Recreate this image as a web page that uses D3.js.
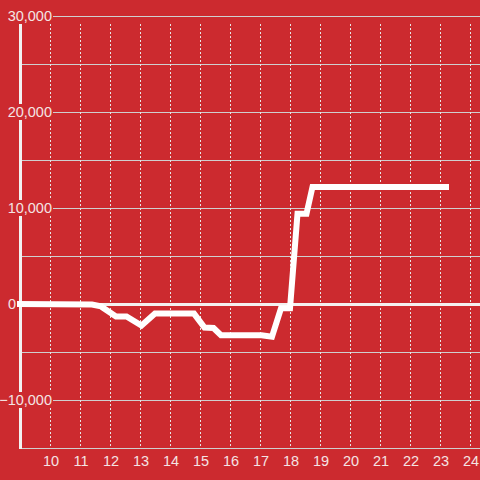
<!DOCTYPE html>
<html>
<head>
<meta charset="utf-8">
<script src="https://d3js.org/d3.v7.min.js"></script>
<style>
	html, body { margin: 0; padding: 0; background: #cc2a2f; }
	svg { display: block; }
	text { font-family: "Liberation Sans", Arial, sans-serif; }
</style>
</head>
<body>
<div id="chart"></div>
<script>
/**
 * Chart data.
 */
var hours = [8.9, 11.4, 11.7, 12.2, 12.55, 13.05, 13.5, 14.8, 15.15, 15.45, 15.7, 17.05, 17.4, 17.7, 18.0, 18.25, 18.55, 18.75, 23.3];
var values = [0, -50, -250, -1300, -1300, -2250, -1000, -1000, -2450, -2500, -3250, -3250, -3400, -450, -450, 9400, 9400, 12200, 12200];
var xTicks = [10, 11, 12, 13, 14, 15, 16, 17, 18, 19, 20, 21, 22, 23, 24];
var yTicks = [-10000, 0, 10000, 20000, 30000];
var yGrid = [-15000, -10000, -5000, 0, 5000, 10000, 15000, 20000, 25000, 30000];

{
	var width = 480,
		height = 480,
		bg = "#cc2a2f",
		labelColor = "#f4e4e4";

	var x = d3.scaleLinear().domain([9, 24]).range([20, 470]);
	var y = d3.scaleLinear().domain([-15000, 30000]).range([448, 16]);

	var points = hours.map(function (h, i) {
		return [h, values[i]];
	});

	var svg = d3.select("#chart").append("svg")
		.attr("width", width)
		.attr("height", height);

	svg.append("rect")
		.attr("width", width)
		.attr("height", height)
		.attr("fill", bg);

	// Horizontal gridlines.
	svg.append("g").selectAll("line")
		.data(yGrid.filter(function (d) { return d !== 0; }))
		.enter().append("line")
		.attr("x1", 20)
		.attr("x2", width)
		.attr("y1", function (d) { return Math.round(y(d)) + 0.5; })
		.attr("y2", function (d) { return Math.round(y(d)) + 0.5; })
		.attr("stroke", "#cfcfcf")
		.attr("stroke-width", 1);

	// Vertical dotted gridlines.
	svg.append("g").selectAll("line")
		.data(xTicks)
		.enter().append("line")
		.attr("x1", function (d) { return Math.round(x(d)) + 0.5; })
		.attr("x2", function (d) { return Math.round(x(d)) + 0.5; })
		.attr("y1", 24)
		.attr("y2", 447)
		.attr("stroke", "#e6e6e6")
		.attr("stroke-width", 1)
		.attr("stroke-dasharray", "2,2");

	// Zero line.
	svg.append("line")
		.attr("x1", 20)
		.attr("x2", width)
		.attr("y1", y(0) + 0.5)
		.attr("y2", y(0) + 0.5)
		.attr("stroke", "#f4f0f0")
		.attr("stroke-width", 3);

	// Y axis line.
	svg.append("line")
		.attr("x1", 20.5)
		.attr("x2", 20.5)
		.attr("y1", 24)
		.attr("y2", 449)
		.attr("stroke", "#f2f2f2")
		.attr("stroke-width", 3);

	// Data line.
	var line = d3.line()
		.x(function (d) { return x(d[0]); })
		.y(function (d) { return y(d[1]); });

	svg.append("path")
		.datum(points)
		.attr("d", line)
		.attr("fill", "none")
		.attr("stroke", "#ffffff")
		.attr("stroke-width", 6);

	// Y labels with a background box.
	var fmt = d3.format(",");
	var yLab = svg.append("g").selectAll("g")
		.data(yTicks)
		.enter().append("g")
		.attr("transform", function (d) { return "translate(0," + y(d) + ")"; });

	yLab.append("rect")
		.attr("x", function (d) { return d === 0 ? 7 : 0; })
		.attr("y", -8)
		.attr("width", function (d) { return d === 0 ? 10 : 53; })
		.attr("height", 16)
		.attr("fill", bg);

	yLab.append("text")
		.attr("x", function (d) { return d === 0 ? 16 : 52; })
		.attr("y", 5)
		.attr("text-anchor", "end")
		.attr("font-size", "14.5px")
		.attr("fill", labelColor)
		.text(function (d) { return fmt(d); });

	// X labels.
	svg.append("g").selectAll("text")
		.data(xTicks)
		.enter().append("text")
		.attr("x", function (d) { return x(d) + 1; })
		.attr("y", 466)
		.attr("text-anchor", "middle")
		.attr("font-size", "14.5px")
		.attr("fill", labelColor)
		.text(function (d) { return d; });
}
</script>
</body>
</html>
